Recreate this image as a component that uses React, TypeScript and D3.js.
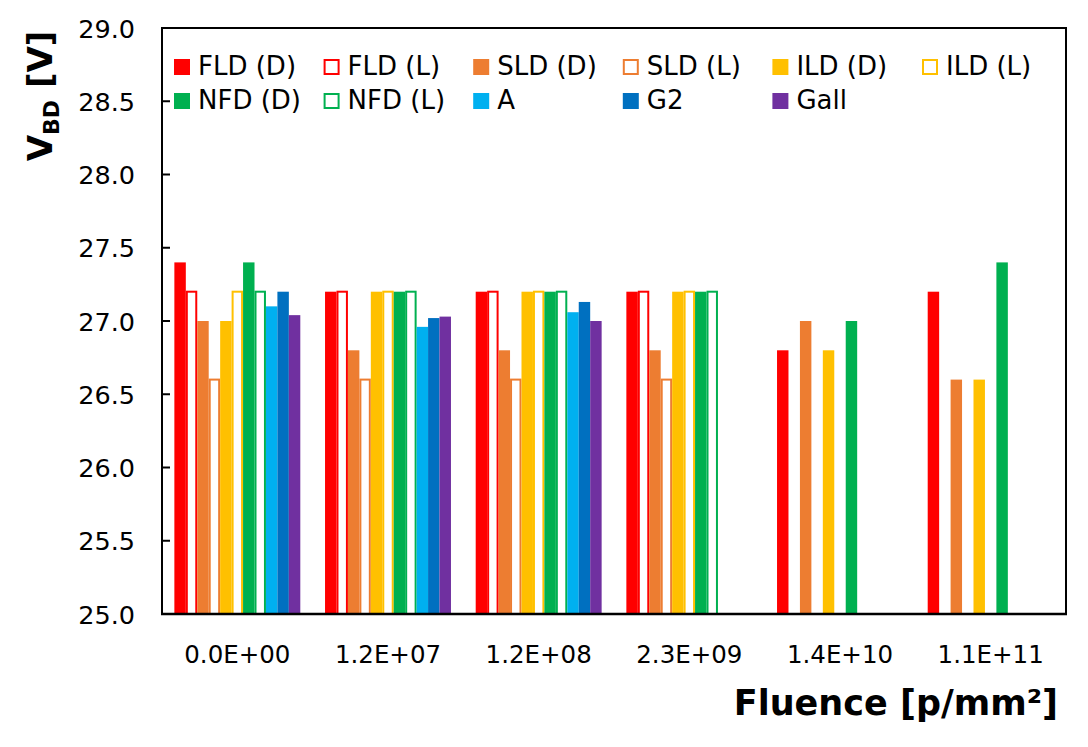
import React from "react";
import * as d3 from "d3";

const categories = ["0.0E+00", "1.2E+07", "1.2E+08", "2.3E+09", "1.4E+10", "1.1E+11"];
const seriesNames = ["FLD (D)", "FLD (L)", "SLD (D)", "SLD (L)", "ILD (D)", "ILD (L)", "NFD (D)", "NFD (L)", "A", "G2", "Gall"];
const seriesColors = ["#FF0000", "#FF0000", "#ED7D31", "#ED7D31", "#FFC000", "#FFC000", "#00B050", "#00B050", "#00B0F0", "#0070C0", "#7030A0"];
const seriesHollow = [false, true, false, true, false, true, false, true, false, false, false];

const fldD = [27.4, 27.2, 27.2, 27.2, 26.8, 27.2];
const fldL = [27.2, 27.2, 27.2, 27.2, null, null];
const sldD = [27.0, 26.8, 26.8, 26.8, 27.0, 26.6];
const sldL = [26.6, 26.6, 26.6, 26.6, null, null];
const ildD = [27.0, 27.2, 27.2, 27.2, 26.8, 26.6];
const ildL = [27.2, 27.2, 27.2, 27.2, null, null];
const nfdD = [27.4, 27.2, 27.2, 27.2, 27.0, 27.4];
const nfdL = [27.2, 27.2, 27.2, 27.2, null, null];
const aVals = [27.1, 26.96, 27.06, null, null, null];
const g2Vals = [27.2, 27.02, 27.13, null, null, null];
const gallVals = [27.04, 27.03, 27.0, null, null, null];

const seriesValues: (number | null)[][] = [fldD, fldL, sldD, sldL, ildD, ildL, nfdD, nfdL, aVals, g2Vals, gallVals];

const yTicks = [25.0, 25.5, 26.0, 26.5, 27.0, 27.5, 28.0, 28.5, 29.0];

const FONT = "'DejaVu Sans', Verdana, sans-serif";

export default function App() {
  const W = 1088;
  const H = 747;
  const left = 162, right = 1066, top = 28, bottom = 614;

  const y = d3.scaleLinear().domain([25, 29]).range([bottom, top]);
  const x0 = d3.scaleBand<string>().domain(categories).range([left, right]).padding(0);
  const x1 = d3
    .scaleBand<string>()
    .domain(seriesNames)
    .range([0, x0.bandwidth()])
    .paddingInner(0)
    .paddingOuter(1.08);

  const sw = 2;

  return (
    <svg width={W} height={H} style={{ position: "absolute", left: 0, top: 0, background: "#fff" }} fontFamily={FONT}>
      <rect x={0} y={0} width={W} height={H} fill="#fff" />
      {/* bars */}
      {categories.map((c, ci) => (
        <g key={c}>
          {seriesNames.map((s, si) => {
            const v = seriesValues[si][ci];
            if (v == null) return null;
            const bx = (x0(c) as number) + (x1(s) as number);
            const bw = x1.bandwidth();
            const by = y(v);
            if (seriesHollow[si]) {
              return (
                <rect
                  key={s}
                  x={bx + sw / 2}
                  y={by}
                  width={bw - sw}
                  height={bottom - by}
                  fill="#fff"
                  stroke={seriesColors[si]}
                  strokeWidth={sw}
                />
              );
            }
            return <rect key={s} x={bx} y={by} width={bw} height={bottom - by} fill={seriesColors[si]} />;
          })}
        </g>
      ))}
      {/* frame */}
      <rect x={left} y={top} width={right - left} height={bottom - top} fill="none" stroke="#000" strokeWidth={2} />
      <line x1={left - 1} x2={right + 1} y1={bottom} y2={bottom} stroke="#000" strokeWidth={2.5} />
      {/* y ticks */}
      {yTicks.map((t) => (
        <g key={t}>
          <line x1={left} x2={left + 8} y1={y(t)} y2={y(t)} stroke="#000" strokeWidth={2} />
          <text x={135} y={y(t) + 9.5} textAnchor="end" fontSize={25.5} fill="#000">
            {d3.format(".1f")(t)}
          </text>
        </g>
      ))}
      {/* x labels */}
      {categories.map((c) => (
        <text key={c} x={(x0(c) as number) + x0.bandwidth() / 2} y={663} textAnchor="middle" fontSize={24.5} fill="#000">
          {c}
        </text>
      ))}
      {/* legend */}
      {seriesNames.map((s, i) => {
        const col = i % 6;
        const row = Math.floor(i / 6);
        const lx = 174 + col * 149.6;
        const ly = 75 + row * 34;
        return (
          <g key={s}>
            {seriesHollow[i] ? (
              <rect x={lx + 1} y={ly - 15} width={14} height={14} fill="#fff" stroke={seriesColors[i]} strokeWidth={2} />
            ) : (
              <rect x={lx} y={ly - 16} width={16} height={16} fill={seriesColors[i]} />
            )}
            <text x={lx + 24} y={ly} fontSize={26} fill="#000">
              {s}
            </text>
          </g>
        );
      })}
      {/* y title */}
      <text
        transform="translate(52,96) rotate(-90)"
        textAnchor="middle"
        fontSize={34}
        fontWeight="bold"
        fill="#000"
      >
        V
        <tspan fontSize={22} dy={7}>BD</tspan>
        <tspan dy={-7}> [V]</tspan>
      </text>
      {/* x title */}
      <text x={1058} y={715} textAnchor="end" fontSize={35} fontWeight="bold" fill="#000">
        Fluence [p/mm²]
      </text>
    </svg>
  );
}
